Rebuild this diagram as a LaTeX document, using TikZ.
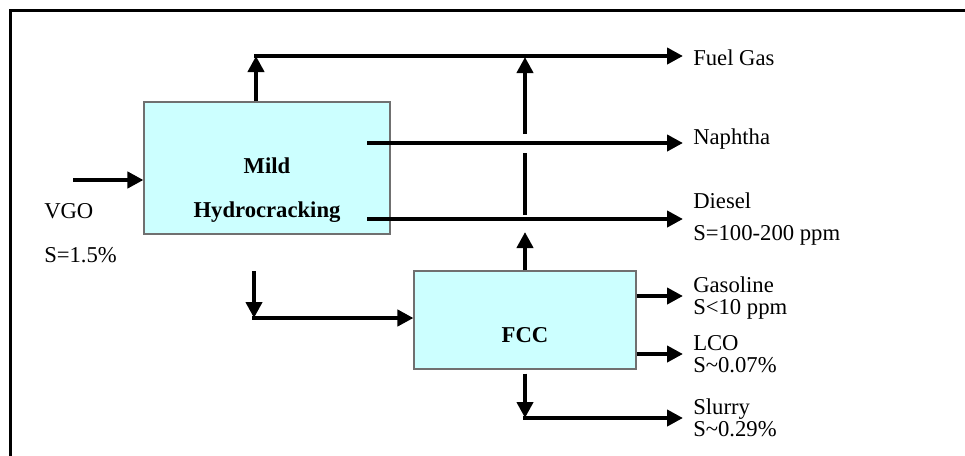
\documentclass[tikz,border=0pt]{standalone}
\usepackage{fontspec}
\setmainfont{Liberation Serif}
\usepackage{xcolor}
\usetikzlibrary{arrows.meta}
\definecolor{unitfill}{HTML}{CCFFFF}
\definecolor{unitline}{HTML}{707070}

\begin{document}
\begin{tikzpicture}[x=0.75pt,y=-0.75pt,
        unit/.style={draw=unitline,line width=0.8pt,fill=unitfill,inner sep=0pt},
        flow/.style={line width=3pt,-{Triangle[length=12pt,width=12pt]}},
        pipe/.style={line width=3pt},
        stream/.style={inner sep=0pt,anchor=base west,align=left,font=\fontsize{17}{16.5}\selectfont},
        unitname/.style={inner sep=0pt,anchor=base,align=center,font=\fontsize{17}{33}\selectfont\bfseries}]
        \useasboundingbox (0,0) rectangle (965,455);
        \draw[line width=2.25pt] (10,460) -- (10,10) -- (970,10);
        \draw (267,168) node[unit,minimum width=184.5pt,minimum height=99pt](mhc) {};
        \draw (525,320) node[unit,minimum width=166.5pt,minimum height=73.5pt](fcc) {};
        \draw (267,217) node[unitname](mhcname) {Mild\\Hydrocracking};
        \draw (525,342) node[unitname](fccname) {FCC};
        \coordinate (vgoin) at (73,180);
        \coordinate (gasup) at (256,56);
        \coordinate (gasend) at (683,56);
        \coordinate (naphstart) at (367,143);
        \coordinate (naphend) at (683,143);
        \coordinate (dieselstart) at (367,219);
        \coordinate (dieselend) at (683,219);
        \coordinate (riseA) at (525,232);
        \coordinate (riseB) at (525,215);
        \coordinate (riseC) at (525,153);
        \coordinate (riseD) at (525,134);
        \coordinate (riseE) at (525,57);
        \coordinate (feedtop) at (254,271);
        \coordinate (feedbend) at (254,318);
        \coordinate (gasolineend) at (683,296);
        \coordinate (lcoend) at (683,354);
        \coordinate (slurrybend) at (525,418);
        \coordinate (slurryend) at (683,418);
        \draw[flow] (vgoin) -- (vgoin -| mhc.west);
        \draw[flow] (gasup |- mhc.north) -- (gasup);
        \draw[flow] ([xshift=-1.5pt]gasup) -- (gasend);
        \draw[flow] (naphstart) -- (naphend);
        \draw[flow] (dieselstart) -- (dieselend);
        \draw[flow] (fcc.north) -- (riseA);
        \draw[pipe] (riseB) -- (riseC);
        \draw[flow] (riseD) -- (riseE);
        \draw[flow] (feedtop) -- (feedbend);
        \draw[flow] ([xshift=-1.5pt]feedbend) -- (feedbend -| fcc.west);
        \draw[flow] (gasolineend -| fcc.east) -- (gasolineend);
        \draw[flow] (lcoend -| fcc.east) -- (lcoend);
        \draw[flow] ([yshift=-3pt]fcc.south) -- (slurrybend);
        \draw[flow] ([xshift=-1.5pt]slurrybend) -- (slurryend);
        \draw (44,218) node[stream](vgo) {VGO};
        \draw (44,262) node[stream](vgosulfur) {S=1.5\%};
        \draw (693,65) node[stream](fuelgas) {Fuel Gas};
        \draw (693,144) node[stream](naphtha) {Naphtha};
        \draw (693,240) node[stream,font=\fontsize{17}{24}\selectfont](diesel) {Diesel\\S=100-200 ppm};
        \draw (693,314) node[stream](gasoline) {Gasoline\\S<10 ppm};
        \draw (693,372) node[stream](lco) {LCO\\S\textasciitilde 0.07\%};
        \draw (693,436) node[stream](slurry) {Slurry\\S\textasciitilde 0.29\%};
    \end{tikzpicture}
\end{document}
